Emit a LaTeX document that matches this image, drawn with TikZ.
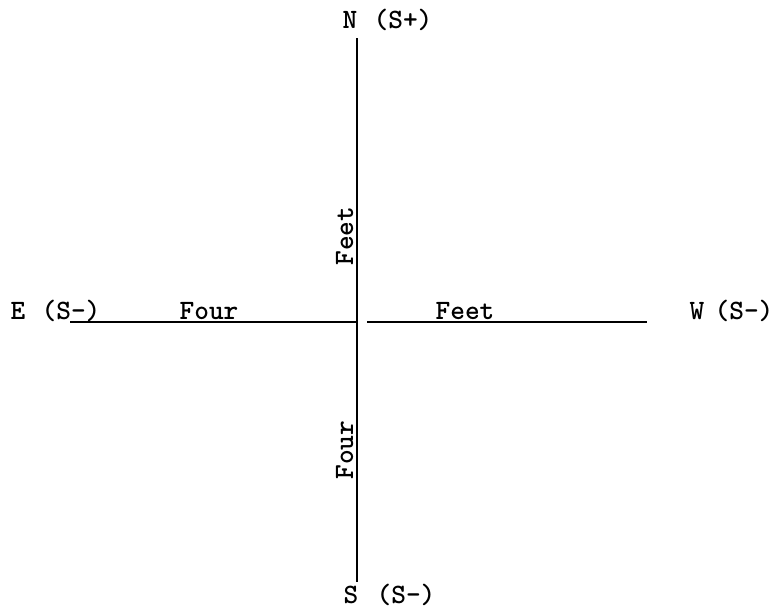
\documentclass[tikz,border=0pt]{standalone}
\usepackage{fontspec}
\begin{document}
\begin{tikzpicture}[x=1pt,y=-1pt,
  lbl/.style={font=\ttfamily\bfseries\fontsize{28}{30}\selectfont, inner sep=0pt, anchor=base},
  axis/.style={line width=1.9pt, black}]
\useasboundingbox (0,0) rectangle (780,608);
\coordinate (top) at (357,38);
\coordinate (bot) at (357,582);
\coordinate (left) at (70,322);
\coordinate (ctr) at (358,322);
\coordinate (rgap) at (367,322);
\coordinate (right) at (647,322);
\draw[axis] (top) -- (bot);
\draw[axis] (left) -- (ctr);
\draw[axis] (rgap) -- (right);
\node[lbl] (n) at (350,28) {N};
\node[lbl] (np) at (403,28) {(S+)};
\node[lbl] (e) at (18,319) {E};
\node[lbl] (ep) at (71,319) {(S-)};
\node[lbl] (four) at (209,319) {Four};
\node[lbl] (feet) at (465,319) {Feet};
\node[lbl] (w) at (697,319) {W};
\node[lbl] (wp) at (744,319) {(S-)};
\node[lbl, rotate=90] (feetv) at (353,236) {Feet};
\node[lbl, rotate=90] (fourv) at (353,450) {Four};
\node[lbl] (s) at (351,603) {S};
\node[lbl] (sp) at (406,603) {(S-)};
\end{tikzpicture}
\end{document}
